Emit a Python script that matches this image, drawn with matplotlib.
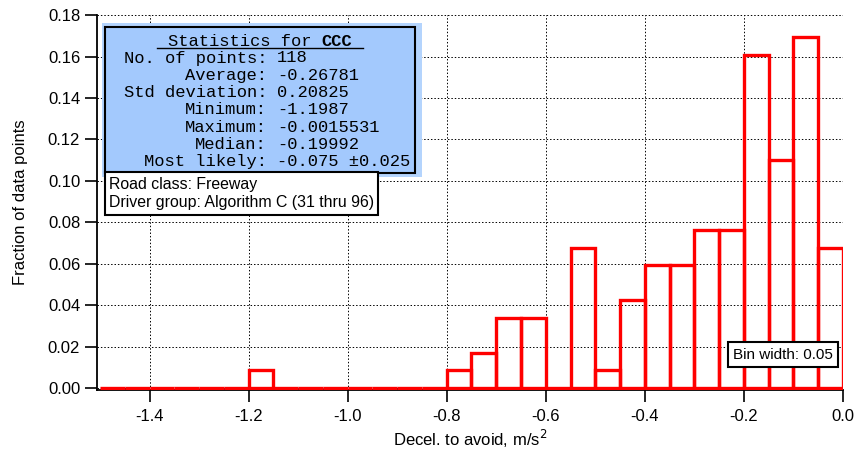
import matplotlib
matplotlib.use("Agg")
import matplotlib.pyplot as plt
from matplotlib.patches import Rectangle
import numpy as np

# Data
bin_edges_left = [round(-1.5 + 0.05 * i, 2) for i in range(30)]
counts = [0, 0, 0, 0, 0, 0, 1, 0, 0, 0, 0, 0, 0, 0,
          1, 2, 4, 4, 0, 8, 1, 5, 7, 7, 9, 9, 19, 13, 20, 8]
n_points = 118
fractions = [c / n_points for c in counts]
bin_width = 0.05

x_ticks = [-1.4, -1.2, -1.0, -0.8, -0.6, -0.4, -0.2, 0.0]
y_ticks = [0.00, 0.02, 0.04, 0.06, 0.08, 0.10, 0.12, 0.14, 0.16, 0.18]

stat_labels = ["No. of points:", "Average:", "Std deviation:", "Minimum:",
               "Maximum:", "Median:", "Most likely:"]
stat_values = ["118", "-0.26781", "0.20825", "-1.1987", "-0.0015531",
               "-0.19992", "-0.075 \u00b10.025"]

W, H = 857, 450
fig = plt.figure(figsize=(W / 100, H / 100), dpi=100)
ax = fig.add_axes([97 / W, 1 - 390 / H, (843 - 97) / W, (390 - 15) / H])

sans = ['Liberation Sans', 'DejaVu Sans']
mono = ['Liberation Mono', 'DejaVu Sans Mono']

ax.bar(bin_edges_left, fractions, width=bin_width, align='edge',
       fill=False, edgecolor='#ff0000', linewidth=2.4, zorder=3)

ax.set_xlim(-1.506, 0.0)
ax.set_ylim(-0.001, 0.1801)
ax.set_xticks(x_ticks)
ax.set_xticklabels([f"{v:.1f}" for v in x_ticks], family=sans, fontsize=12)
ax.set_yticks(y_ticks)
ax.set_yticklabels([f"{v:.2f}" for v in y_ticks], family=sans, fontsize=12)
ax.tick_params(direction='out', length=8.6, width=1.2, color='black')
ax.tick_params(axis='x', pad=5)
ax.tick_params(axis='y', pad=3.5)
ax.grid(True, color='black', linestyle=(0, (1.5, 2)), linewidth=0.7, zorder=0)
ax.spines['top'].set_visible(False)
ax.spines['right'].set_visible(False)
ax.spines['left'].set_linewidth(1.3)
ax.spines['bottom'].set_linewidth(1.3)
ax.set_xlabel("Decel. to avoid, m/s$^2$", family=sans, fontsize=12, labelpad=3)
ax.set_ylabel("Fraction of data points", family=sans, fontsize=12, labelpad=14)

def px(x, y):
    return x / W, 1 - y / H

# Stats box
tf = fig.transFigure
fig.patches.append(Rectangle(px(102, 177), 320 / W, 154 / H, transform=tf,
                             facecolor='#b4d4fd', edgecolor='none', zorder=5))
fig.patches.append(Rectangle(px(105, 173), 310 / W, 146 / H, transform=tf,
                             facecolor='#a3c9fd', edgecolor='black', linewidth=1.5, zorder=6))

mfs = 12.3
fig.text(*px(168, 41), "Statistics for ", family=mono, fontsize=mfs,
         ha='left', va='center', zorder=7)
fig.text(*px(321, 41), "CCC", family=mono, fontsize=mfs, fontweight='bold',
         ha='left', va='center', zorder=7)
fig.lines.append(plt.Line2D([157 / W, 363 / W], [1 - 47.5 / H, 1 - 47.5 / H],
                            transform=tf, color='black', linewidth=1, zorder=7))

for i, (lab, val) in enumerate(zip(stat_labels, stat_values)):
    y = 58 + i * 17.3
    fig.text(*px(267, y), lab, family=mono, fontsize=mfs, ha='right', va='center', zorder=7)
    fig.text(*px(277, y), val, family=mono, fontsize=mfs, ha='left', va='center', zorder=7)

# Info box
fig.patches.append(Rectangle(px(105, 215), 273 / W, 43 / H, transform=tf,
                             facecolor='white', edgecolor='black', linewidth=1.5, zorder=6))
fig.text(*px(109, 185), "Road class: Freeway", family=sans, fontsize=11.4,
         ha='left', va='center', zorder=7)
fig.text(*px(109, 203), "Driver group: Algorithm C (31 thru 96)", family=sans, fontsize=11.4,
         ha='left', va='center', zorder=7)

# Bin width box
fig.patches.append(Rectangle(px(728, 367), 110 / W, 25 / H, transform=tf,
                             facecolor='white', edgecolor='black', linewidth=1.5, zorder=6))
fig.text(*px(783, 355), "Bin width: 0.05", family=sans, fontsize=11,
         ha='center', va='center', zorder=7)

fig.savefig("out.png", dpi=100)
